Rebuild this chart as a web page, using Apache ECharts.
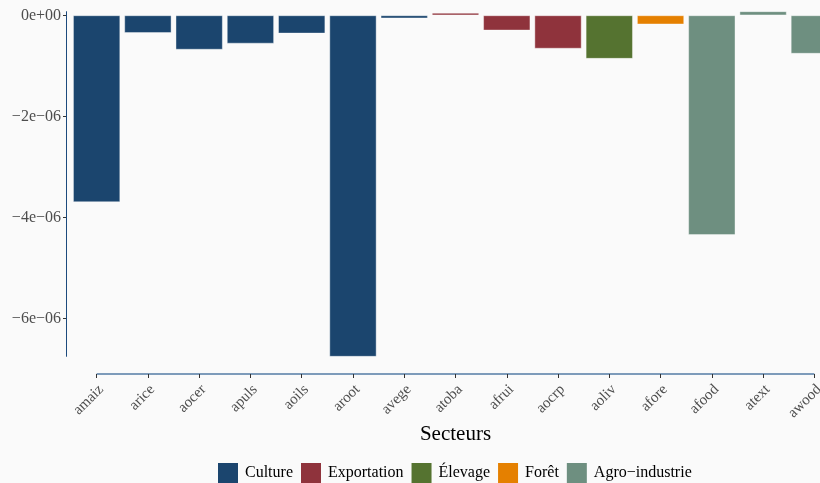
<!DOCTYPE html>
<html>
<head>
<meta charset="utf-8">
<script src="https://cdn.jsdelivr.net/npm/echarts@6/dist/echarts.min.js"></script>
<style>
html,body{margin:0;padding:0;background:#fafafa;overflow:hidden;width:820px;height:483px;position:relative;}
#chart{position:absolute;left:0;top:-10px;width:860px;height:493px;}
</style>
</head>
<body>
<div id="chart"></div>
<script>
const categories = ['amaiz','arice','aocer','apuls','aoils','aroot','avege','atoba','afrui','aocrp','aoliv','afore','afood','atext','awood'];
const categoryGroup = ['Culture','Culture','Culture','Culture','Culture','Culture','Culture','Exportation','Exportation','Exportation','Élevage','Forêt','Agro−industrie','Agro−industrie','Agro−industrie'];
const values = [-3.70e-6,-0.35e-6,-0.68e-6,-0.56e-6,-0.36e-6,-6.76e-6,-0.06e-6,0.05e-6,-0.30e-6,-0.66e-6,-0.86e-6,-0.18e-6,-4.35e-6,0.08e-6,-0.76e-6];
const groupNames = ['Culture','Exportation','Élevage','Forêt','Agro−industrie'];
const groupColors = ['#1b456e','#8f333c','#557330','#e58000','#6e8f80'];
const yTickValues = [0,-2e-6,-4e-6,-6e-6];
const yTickLabels = ['0e+00','−2e−06','−4e−06','−6e−06'];

const dMin = Math.min(...values), dMax = Math.max(...values);
const span = dMax - dMin;
const yMin = dMin - 0.05*span, yMax = dMax + 0.05*span;
const FONT = 'Liberation Serif';

const series = groupNames.map((g, gi) => ({
  name: g,
  type: 'bar',
  stack: 'all',
  barCategoryGap: '8%',
  itemStyle: {color: groupColors[gi], borderColor: 'rgba(255,255,255,0.5)', borderWidth: 0.8},
  emphasis: {disabled: true},
  data: values.map((v, i) => categoryGroup[i] === g ? v : '-')
}));

const chart = echarts.init(document.getElementById('chart'), null, {renderer: 'canvas'});
chart.setOption({
  backgroundColor: '#fafafa',
  animation: false,
  grid: {left: 71, width: 769, top: 4, height: 380, containLabel: false},
  xAxis: {
    type: 'category',
    data: categories,
    boundaryGap: true,
    axisLine: {show: false, onZero: false},
    axisTick: {show: true, alignWithLabel: true, length: 4, lineStyle: {color: '#333333', width: 1}},
    axisLabel: {rotate: 45, margin: 3, padding: [3,4,0,0], verticalAlign: 'top', align: 'right', fontFamily: FONT, fontSize: 15, color: '#4d4d4d'},
    splitLine: {show: false},
    name: 'Secteurs',
    nameLocation: 'middle',
    nameGap: 50,
    nameMoveOverlap: false,
    nameTextStyle: {fontFamily: FONT, fontSize: 21, color: '#000000'}
  },
  yAxis: {
    type: 'value',
    min: yMin,
    max: yMax,
    offset: 5,
    axisLine: {show: false},
    axisTick: {show: true, length: 3, customValues: yTickValues, lineStyle: {color: '#333333'}},
    axisLabel: {
      customValues: yTickValues,
      margin: 5,
      fontFamily: FONT, fontSize: 16, color: '#4d4d4d',
      formatter: v => {
        const i = yTickValues.findIndex(t => Math.abs(t - v) < 1e-12);
        return i >= 0 ? yTickLabels[i] : '';
      }
    },
    splitLine: {show: false}
  },
  legend: {
    data: groupNames,
    left: 218,
    top: 473,
    padding: 0,
    itemWidth: 20,
    itemHeight: 20,
    itemGap: 8,
    icon: 'rect',
    itemStyle: {borderWidth: 0},
    textStyle: {fontFamily: FONT, fontSize: 16, color: '#000000', padding: [2,0,0,2]}
  },
  series: series
});

const yTop = chart.convertToPixel({gridIndex: 0}, [0, dMax])[1];
const yBot = chart.convertToPixel({gridIndex: 0}, [0, dMin])[1];
const xFirst = chart.convertToPixel({gridIndex: 0}, [0, 0])[0];
const xLast = chart.convertToPixel({gridIndex: 0}, [categories.length - 1, 0])[0];
const band = (xLast - xFirst) / (categories.length - 1);
const yAxisX = Math.round(xFirst - 0.6 * band) + 0.5;
const gridBottom = chart.convertToPixel({gridIndex: 0}, [0, yMin])[1];
chart.setOption({
  graphic: [
    {type: 'line', shape: {x1: yAxisX, y1: yTop, x2: yAxisX, y2: yBot}, style: {stroke: '#1c4a7d', lineWidth: 1}, silent: true},
    {type: 'line', shape: {x1: xFirst, y1: gridBottom, x2: xLast, y2: gridBottom}, style: {stroke: '#7d9bba', lineWidth: 1.8}, silent: true}
  ]
});
</script>
</body>
</html>
